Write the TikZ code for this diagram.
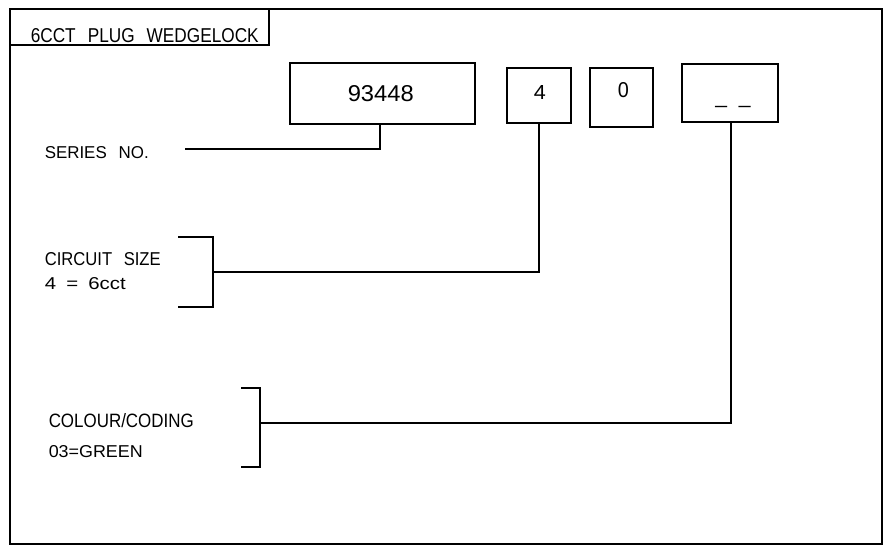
\documentclass[tikz,border=0pt]{standalone}
\usepackage{fontspec}
\usepackage{graphicx}
\setmainfont{Liberation Sans}
\newcommand{\fitw}[3]{\resizebox{#1pt}{#2pt}{#3}}
\newcommand{\gp}{\hspace{0.7em}}
\begin{document}
\begin{tikzpicture}[x=1pt,y=-1pt,
  line width=1.5pt,
  frame/.style={draw=black,line width=2pt},
  codebox/.style={draw=black,line width=1.5pt,inner sep=0pt},
  lbl/.style={anchor=base west,inner sep=0pt,font=\fontsize{18}{20}\selectfont},
  wire/.style={draw=black,line width=1.5pt}
]
\useasboundingbox (0,0) rectangle (888,548);
% outer frame and title block
\draw[frame] (10,9) rectangle (882,544);
\draw[frame] (10,9) rectangle (269,45);
\node[lbl] (title) at (30,42.5) {\fitw{228}{14}{6CCT\gp PLUG\gp WEDGELOCK}};

% code boxes
\node[codebox,minimum width=185pt,minimum height=61pt] (sn) at (382.5,93.5) {};
\node[codebox,minimum width=64pt,minimum height=55pt] (b4) at (539,95.5) {};
\node[codebox,minimum width=63pt,minimum height=59pt] (b0) at (621.5,97.5) {};
\node[codebox,minimum width=96pt,minimum height=58pt] (bd) at (730,93) {};
\node[lbl] (snt) at (347,102) {\fitw{66}{16}{93448}};
\node[lbl] (b4t) at (533,100) {\fitw{12}{14}{4}};
\node[lbl] (b0t) at (617,98) {\fitw{11}{15}{0}};
\node[inner sep=0pt,anchor=base,font=\fontsize{21}{24}\selectfont] (bdt) at (733,104) {\_\hspace{12pt}\_};

% labels
\node[lbl] (series) at (44,159) {\fitw{104}{12}{SERIES\gp NO.}};
\node[lbl] (circ1) at (44,265) {\fitw{116}{13}{CIRCUIT\gp SIZE}};
\node[lbl] (circ2) at (44,289) {\fitw{81}{12}{4\hspace{0.5em}=\hspace{0.5em}6cct}};
\node[lbl] (col1) at (48,427) {\fitw{145}{14}{COLOUR/CODING}};
\node[lbl] (col2) at (48,457) {\fitw{94}{12}{03=GREEN}};

% brackets
\coordinate (br1t) at (178,237);
\coordinate (br1) at (213,272);
\coordinate (br1b) at (178,307);
\draw[wire] (br1t) -- (213,237) -- (213,307) -- (br1b);
\coordinate (br2t) at (241,388);
\coordinate (br2) at (260,423);
\coordinate (br2b) at (241,467);
\draw[wire] (br2t) -- (260,388) -- (260,467) -- (br2b);

% connectors
\coordinate (snEnd) at (185,149);
\draw[wire] ([xshift=-2.5pt]sn.south) |- (snEnd);
\draw[wire] (b4.south) |- (br1);
\draw[wire] ([xshift=1pt]bd.south) |- (br2);
\end{tikzpicture}
\end{document}
